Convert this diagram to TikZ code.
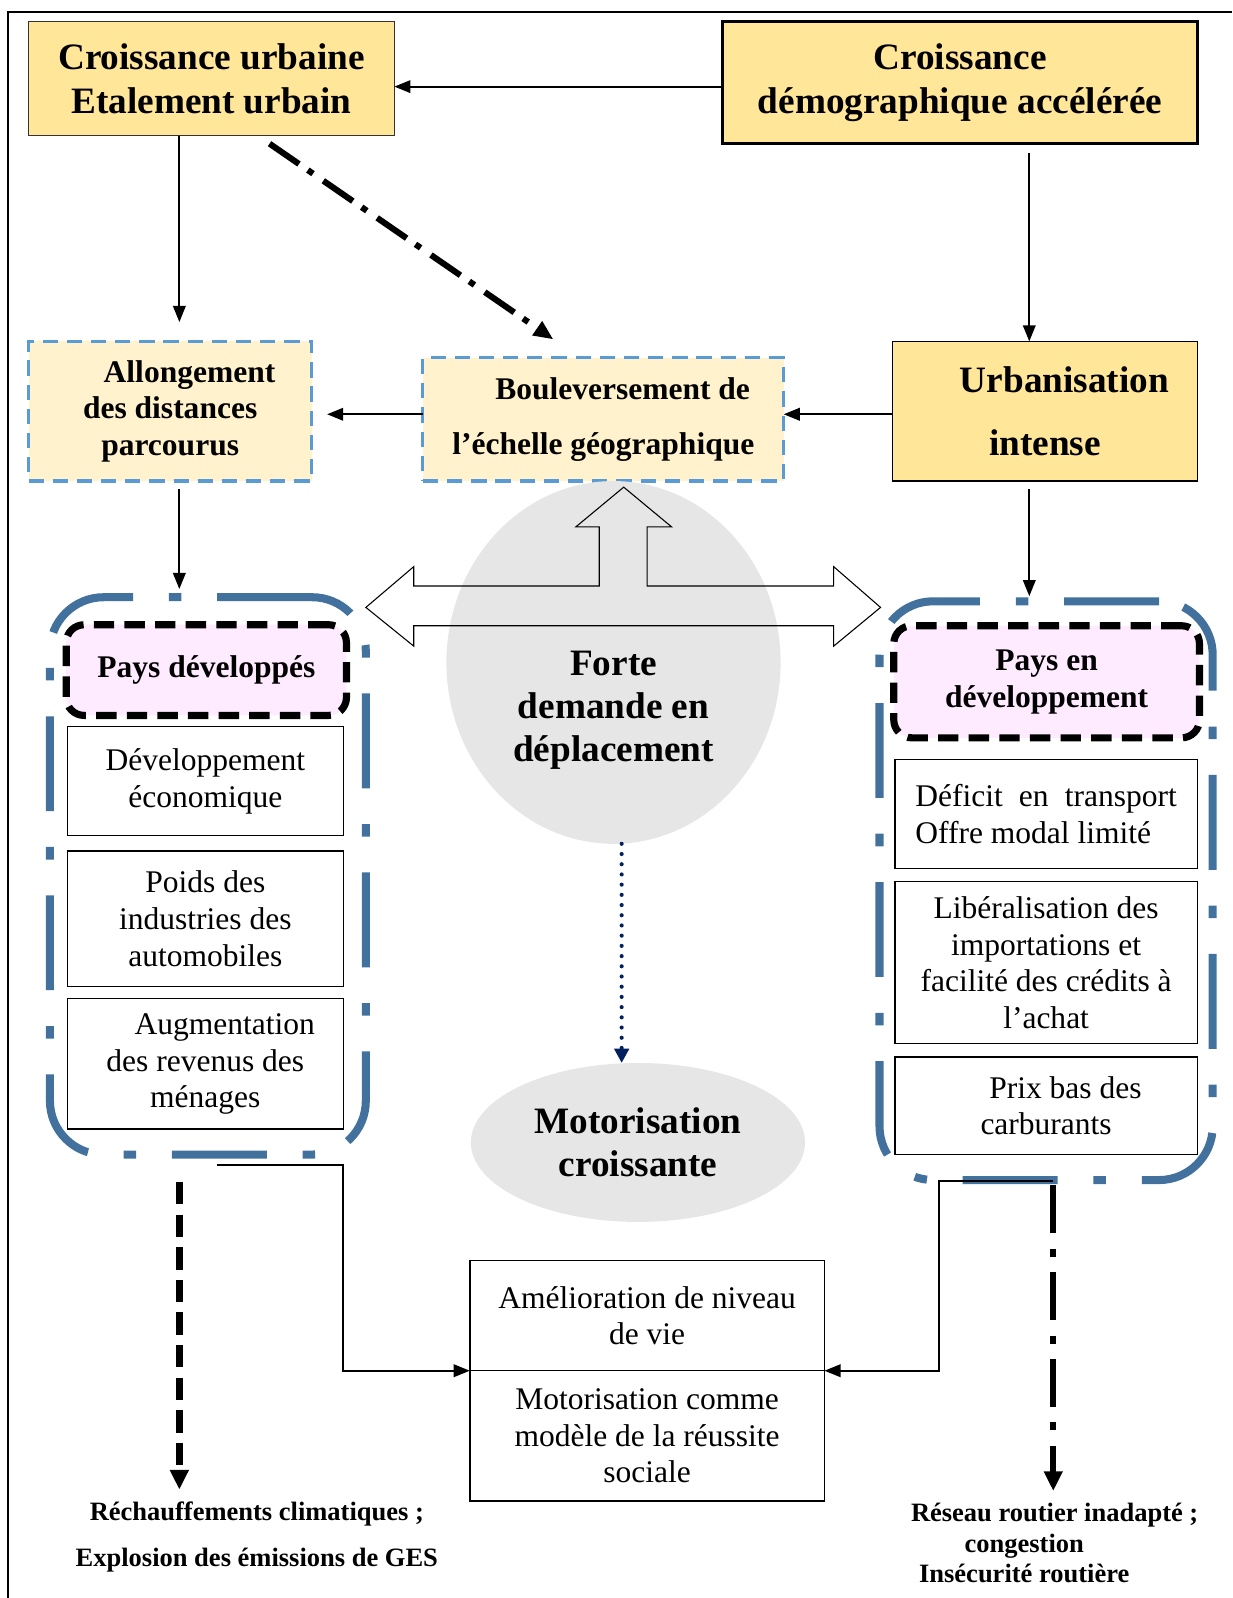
\documentclass[tikz,border=0pt]{standalone}
\usepackage{fontspec}
\setmainfont{Liberation Serif}
\usetikzlibrary{arrows.meta,positioning,calc,shapes.geometric}

\definecolor{gold}{HTML}{FFE699}
\definecolor{cream}{HTML}{FFF2CC}
\definecolor{dashblue}{HTML}{5B9BD5}
\definecolor{groupblue}{HTML}{41719C}
\definecolor{paypink}{HTML}{FFEBFF}
\definecolor{cloudgray}{HTML}{E6E6E6}
\definecolor{navy}{HTML}{002060}

\begin{document}
\begin{tikzpicture}[
    x=0.02cm, y=-0.02cm,
    every node/.style={inner sep=0pt, outer sep=0pt, align=center},
    goldbox/.style={draw=black!80, fill=gold, line width=0.8pt, anchor=north west, font=\fontsize{20.8}{24.5}\selectfont\bfseries},
    creambox/.style={draw=dashblue, fill=cream, line width=1.7pt, dash pattern=on 8.5pt off 5pt, anchor=north west, font=\fontsize{17.6}{20.5}\selectfont\bfseries},
    plainbox/.style={draw, fill=white, line width=0.8pt, anchor=north west, font=\fontsize{17.6}{20.5}\selectfont},
    paysbox/.style={draw, fill=paypink, line width=4pt, dash pattern=on 11.4pt off 5.7pt, rounded corners=10pt, anchor=north west, font=\fontsize{17.6}{20.5}\selectfont\bfseries},
    groupbox/.style={draw=groupblue, line width=4.5pt, dash pattern=on 53pt off 20pt on 7pt off 20pt, rounded corners=30pt, anchor=north west},
    cloud/.style={ellipse, fill=cloudgray, font=\fontsize{20.8}{23.9}\selectfont\bfseries},
    cloudtext/.style={font=\fontsize{20.8}{23.9}\selectfont\bfseries},
    effect/.style={font=\fontsize{14.8}{25.6}\selectfont\bfseries},
    arrow/.style={-{Triangle[length=9pt,width=7pt]}, line width=1.1pt},
    dasharrow/.style={-{Triangle[length=11pt,width=10pt]}, line width=4pt, dash pattern=on 12.5pt off 5.7pt},
    dashdotarrow/.style={-{Triangle[length=11pt,width=9pt]}, line width=3.4pt, dash pattern=on 20pt off 6pt on 3.5pt off 7pt},
    roadarrow/.style={-{Triangle[length=11pt,width=10pt]}, line width=3.4pt, dash pattern=on 27pt off 8.5pt on 4.5pt off 8.5pt},
    dotarrow/.style={-{Triangle[length=8pt,width=8pt]}, draw=navy, line width=2.3pt, line cap=round, dash pattern=on 0pt off 5.7pt}
]
    \useasboundingbox (0,0) rectangle (1209,1568);

    % Frame
    \draw[line width=1.2pt] (8,1568) -- (8,12) -- (1209,12);

    % Top row
    \node[goldbox, minimum width=7.18cm, minimum height=2.24cm] (cu) at (28,21) {Croissance urbaine\\Etalement urbain};
    \node[goldbox, draw=black, line width=1.6pt, minimum width=9.32cm, minimum height=2.4cm] (cd) at (709,21) {Croissance\\démographique accélérée};

    % Second row
    \node[creambox, minimum width=5.56cm, minimum height=2.74cm] (al) at (28,335) {\hspace*{21.6pt}Allongement\\des distances\\parcourus};
    \node[creambox, font=\fontsize{17.6}{30.7}\selectfont\bfseries, minimum width=7.08cm, minimum height=2.42cm] (bo) at (415,351) {\hspace*{21.6pt}Bouleversement de\\l’échelle géographique};
    \node[goldbox, draw=black, font=\fontsize{20.8}{35.3}\selectfont\bfseries, minimum width=5.98cm, minimum height=2.74cm] (ui) at (876,335) {\hspace*{21.6pt}Urbanisation\\intense};

    % Centre
    \node[cloud, minimum width=6.56cm, minimum height=7.12cm] (forte) at (602,650) {};
    \node[cloudtext] (fortetxt) at (602,697) {Forte\\demande en\\déplacement};
    \node[cloud, minimum width=6.56cm, minimum height=3.12cm] (motor) at (626,1121) {Motorisation\\croissante};

    % Hollow arrows
    \draw[line width=0.6pt] (612,478) -- (659,517) -- (635,517) -- (635,575) -- (818,575) -- (818,556) -- (864,596) -- (818,634) -- (818,614) -- (406,614) -- (406,634) -- (359,596) -- (406,556) -- (406,575) -- (588,575) -- (588,517) -- (565,517) -- cycle;

    % Developed countries
    \node[groupbox, minimum width=6.2cm, minimum height=10.94cm] (grpl) at (49,586) {};
    \node[paysbox, minimum width=5.5cm, minimum height=1.78cm] (paysl) at (65,613) {Pays développés};
    \node[plainbox, minimum width=5.42cm, minimum height=2.14cm] (devl) at (66,713) {Développement\\économique};
    \node[plainbox, minimum width=5.42cm, minimum height=2.66cm] (poids) at (66,835) {Poids des\\industries des\\automobiles};
    \node[plainbox, minimum width=5.42cm, minimum height=2.56cm] (augm) at (66,980) {\hspace*{21.6pt}Augmentation\\des revenus des\\ménages};

    % Developing countries
    \node[groupbox, minimum width=6.54cm, minimum height=11.36cm] (grpr) at (863,590) {};
    \node[paysbox, minimum width=6.0cm, minimum height=2.2cm] (paysr) at (877,614) {Pays en\\développement};
    \node[plainbox, minimum width=5.94cm, minimum height=2.14cm] (deficit) at (878,745) {\parbox{146pt}{Déficit\hfill en\hfill transport\\Offre modal limité}};
    \node[plainbox, minimum width=5.94cm, minimum height=3.18cm] (liber) at (878,865) {Libéralisation des\\importations et\\facilité des crédits à\\l’achat};
    \node[plainbox, minimum width=5.94cm, minimum height=1.92cm] (prix) at (878,1037) {\hspace*{21.6pt}Prix bas des\\carburants};

    % Bottom
    \node[plainbox, minimum width=6.96cm, minimum height=2.16cm] (amel) at (461,1237) {Amélioration de niveau\\de vie};
    \node[plainbox, minimum width=6.96cm, minimum height=2.56cm] (motsoc) at (461,1345) {Motorisation comme\\modèle de la réussite\\sociale};
    \node[effect] (rech) at (252,1508) {Réchauffements climatiques ;\\Explosion des émissions de GES};
    \node[effect, font=\fontsize{14.8}{17}\selectfont\bfseries] (reseau) at (1005,1514) {\hspace*{34pt}Réseau routier inadapté ;\\congestion\\Insécurité routière};

    % Connections
    \draw[arrow] ($(cd.west)+(0,4)$) -- ($(cd.west -| cu.east)+(0,4)$);
    \coordinate (cuout) at ($(cu.south west)+(148,0)$);
    \draw[arrow] (cuout) -- ($(cuout |- al.north)+(0,-19)$);
    \draw[dashdotarrow] ($(cu.south)+(57,8)$) -- ($(bo.north)+(-49,-18)$);
    \coordinate (cdout) at ($(cd.south)+(68,9)$);
    \draw[arrow] (cdout) -- (cdout |- ui.north);

    \draw[arrow] ($(ui.west)+(0,3)$) -- ($(ui.west -| bo.east)+(0,3)$);
    \draw[arrow] ($(bo.west)+(0,-5)$) -- ($(bo.west -| al.east)+(15,-5)$);

    \coordinate (alout) at ($(al.south)+(9,8)$);
    \draw[arrow] (alout) -- ($(alout |- grpl.north)+(0,-8)$);
    \coordinate (uiout) at ($(ui.south)+(-15.5,8)$);
    \draw[arrow] (uiout) -- ($(uiout |- grpr.north)+(0,-5)$);

    \draw[dotarrow] ($(forte.south)+(8,0)$) -- ($(motor.north)+(-16,0)$);

    \coordinate (lout) at ($(grpl.south)+(9,10)$);
    \draw[arrow] (lout) -- ++(124,0) |- (amel.south west);
    \coordinate (rout) at ($(grpr.south)+(7,1)$);
    \draw[arrow] (rout) -- ++(-112,0) |- (amel.south east);

    \coordinate (lwarm) at ($(grpl.south)+(-28,27)$);
    \draw[dasharrow] (lwarm) -- ($(lwarm |- rech.north)+(0,-12)$);
    \draw[roadarrow] ($(rout)+(0,4)$) -- ($(rout |- reseau.north)+(0,-12)$);

\end{tikzpicture}
\end{document}
